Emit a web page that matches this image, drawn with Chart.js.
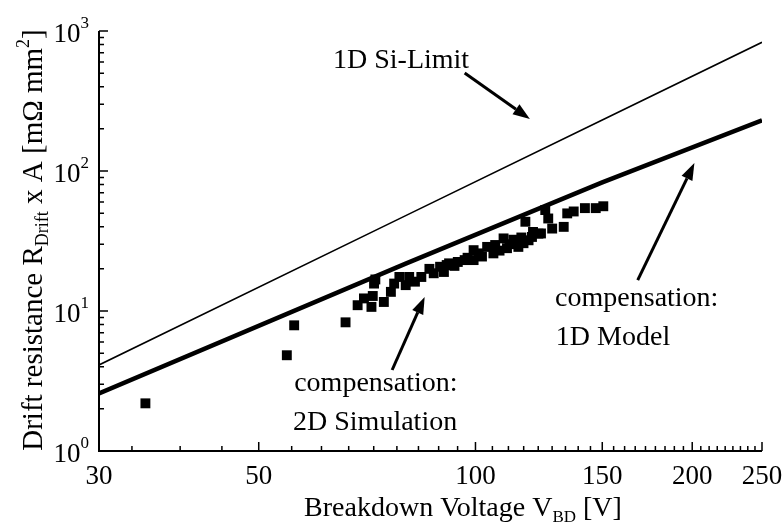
<!DOCTYPE html>
<html>
<head>
<meta charset="utf-8">
<script src="https://cdn.jsdelivr.net/npm/chart.js@4.4.0/dist/chart.umd.min.js"></script>
<style>
    html, body { margin: 0; padding: 0; background: #fff; }
</style>
</head>
<body>
<canvas id="chart" width="784" height="527"></canvas>
<script>
// measured devices: breakdown voltage [V] and drift resistance [mOhm mm2]
var deviceV = [34.8, 54.7, 56.0, 66.0, 68.6, 70.0, 71.7, 72.0, 72.3, 72.6, 74.6, 76.3, 77.1, 78.4, 80.0, 80.9,
    82.4, 84.1, 86.3, 87.5, 89.3, 90.4, 91.2, 91.9, 93.5, 94.5, 96.6, 97.5, 99.4, 99.4, 101.0, 102.1, 103.8,
    105.9, 106.5, 108.0, 109.4, 110.6, 111.5, 112.9, 114.7, 115.8, 116.6, 117.3, 118.5, 119.8, 120.2, 122.3,
    123.3, 125.0, 126.2, 127.8, 132.6, 134.1, 136.9, 141.9, 146.9, 150.5];
var deviceR = [2.19, 4.83, 7.9, 8.3, 11.0, 12.3, 10.7, 12.8, 15.7, 16.8, 11.6, 13.7, 15.7, 17.5, 15.3, 17.5,
    16.2, 17.5, 20.0, 18.6, 20.7, 19.0, 21.3, 21.9, 21.0, 22.4, 23.1, 24.0, 27.2, 23.1, 25.8, 24.5, 28.7,
    25.8, 29.6, 27.0, 33.0, 28.1, 30.0, 32.3, 28.7, 33.5, 30.5, 43.4, 32.0, 33.8, 36.7, 35.7,
    35.8, 52.6, 45.8, 38.8, 39.9, 49.8, 51.4, 54.3, 54.3, 56.0];

// 1D silicon limit and 1D compensation model
var limitV = [30, 80, 150, 250];
var limitR = [4.12, 48, 231, 830];
var modelV = [30, 80, 150, 250];
var modelR = [2.58, 21.8, 83, 230];

// axis ticks
var xTicks = [30, 50, 100, 150, 200, 250];
var yExponents = [0, 1, 2, 3];

var serif = "'Liberation Serif', 'Times New Roman', serif";

function toPoints(xs, ys) {
    return xs.map(function(x, i) { return { x: x, y: ys[i] }; });
}

function font(size) {
    return size + 'px ' + serif;
}

// draw text made of parts [text, size, baseline shift]
function drawRich(ctx, x, y, parts, align) {
    var total = 0;
    parts.forEach(function(p) {
        ctx.font = font(p[1]);
        total += ctx.measureText(p[0]).width;
    });
    var cx = x;
    if (align === 'right') cx = x - total;
    if (align === 'center') cx = x - total / 2;
    parts.forEach(function(p) {
        ctx.font = font(p[1]);
        ctx.fillText(p[0], cx, y + p[2]);
        cx += ctx.measureText(p[0]).width;
    });
}

function arrow(ctx, x1, y1, x2, y2) {
    var ang = Math.atan2(y2 - y1, x2 - x1);
    var head = 17, half = 6;
    var bx = x2 - head * Math.cos(ang), by = y2 - head * Math.sin(ang);
    ctx.lineWidth = 3;
    ctx.beginPath();
    ctx.moveTo(x1, y1);
    ctx.lineTo(bx, by);
    ctx.stroke();
    ctx.beginPath();
    ctx.moveTo(x2, y2);
    ctx.lineTo(bx + half * Math.sin(ang), by - half * Math.cos(ang));
    ctx.lineTo(bx - half * Math.sin(ang), by + half * Math.cos(ang));
    ctx.closePath();
    ctx.fill();
}

var axesPlugin = {
    id: 'axesPlugin',
    afterDraw: function(chart) {
        var ctx = chart.ctx;
        var area = chart.chartArea;
        var xs = chart.scales.x, ys = chart.scales.y;
        ctx.save();
        ctx.fillStyle = '#000';
        ctx.strokeStyle = '#000';
        ctx.textAlign = 'left';
        ctx.textBaseline = 'alphabetic';

        // axis lines
        ctx.lineWidth = 2;
        ctx.beginPath();
        ctx.moveTo(area.left, area.top);
        ctx.lineTo(area.left, area.bottom);
        ctx.lineTo(area.right, area.bottom);
        ctx.stroke();

        // x ticks: major labelled, minor every 50/9
        ctx.lineWidth = 1.5;
        ctx.beginPath();
        for (var k = -3; k <= 36; k++) {
            var v = 50 + k * 50 / 9;
            if (k % 9 === 0 || v < 30) continue;
            var px = xs.getPixelForValue(v);
            ctx.moveTo(px, area.bottom);
            ctx.lineTo(px, area.bottom - 5);
        }
        xTicks.forEach(function(t) {
            var px = xs.getPixelForValue(t);
            ctx.moveTo(px, area.bottom);
            ctx.lineTo(px, area.bottom - 9);
        });
        // y ticks
        yExponents.forEach(function(e) {
            var py = ys.getPixelForValue(Math.pow(10, e));
            ctx.moveTo(area.left, py);
            ctx.lineTo(area.left + 9, py);
            if (e < 3) {
                for (var m = 2; m <= 9; m++) {
                    var my = ys.getPixelForValue(m * Math.pow(10, e));
                    ctx.moveTo(area.left, my);
                    ctx.lineTo(area.left + 5, my);
                }
            }
        });
        ctx.stroke();

        // tick labels
        xTicks.forEach(function(t) {
            drawRich(ctx, xs.getPixelForValue(t), area.bottom + 33, [[String(t), 27, 0]], 'center');
        });
        yExponents.forEach(function(e) {
            var py = ys.getPixelForValue(Math.pow(10, e));
            drawRich(ctx, 89, py + 11, [['10', 27, 0], [String(e), 17, -14]], 'right');
        });

        // axis titles
        drawRich(ctx, 463, 516, [['Breakdown Voltage V', 28, 0], ['BD', 17, 6], [' [V]', 28, 0]], 'center');
        ctx.save();
        ctx.translate(42, 240);
        ctx.rotate(-Math.PI / 2);
        drawRich(ctx, 0, 0, [['Drift resistance R', 29, 0], ['Drift', 18, 6], [' x A [m\u03A9 mm', 29, 0],
            ['2', 18, -13], [']', 29, 0]], 'center');
        ctx.restore();

        // annotations, placed in data coordinates
        function at(v, r) { return [xs.getPixelForValue(v), ys.getPixelForValue(r)]; }
        var p;
        p = at(63.4, 544); drawRich(ctx, p[0], p[1], [['1D Si-Limit', 28, 0]]);
        p = at(129.0, 10.86); drawRich(ctx, p[0], p[1], [['compensation:', 28, 0]]);
        p = at(129.3, 5.72); drawRich(ctx, p[0], p[1], [['1D Model', 28, 0]]);
        p = at(56.0, 2.70); drawRich(ctx, p[0], p[1], [['compensation:', 28, 0]]);
        p = at(55.8, 1.41); drawRich(ctx, p[0], p[1], [['2D Simulation', 28, 0]]);

        var a, b;
        a = at(96.6, 501); b = at(119.0, 235); arrow(ctx, a[0], a[1], b[0], b[1]);
        a = at(168, 16.6); b = at(201.4, 114); arrow(ctx, a[0], a[1], b[0], b[1]);
        a = at(76.6, 3.79); b = at(85.0, 12.6); arrow(ctx, a[0], a[1], b[0], b[1]);

        ctx.restore();
    }
};

var ctx = document.getElementById('chart').getContext('2d');
var chart = new Chart(ctx, {
    type: 'scatter',
    data: {
        datasets: [
            {
                label: '1D Si-Limit',
                data: toPoints(limitV, limitR),
                showLine: true,
                borderColor: '#000',
                borderWidth: 1.6,
                pointRadius: 0
            },
            {
                label: 'compensation: 1D Model',
                data: toPoints(modelV, modelR),
                showLine: true,
                borderColor: '#000',
                borderWidth: 4.5,
                pointRadius: 0
            },
            {
                label: 'compensation: 2D Simulation',
                data: toPoints(deviceV, deviceR),
                pointStyle: 'rect',
                pointRadius: 7,
                backgroundColor: '#000',
                borderWidth: 0
            }
        ]
    },
    options: {
        responsive: false,
        devicePixelRatio: 1,
        animation: false,
        layout: { padding: { left: 99, right: 22, top: 31, bottom: 76 } },
        plugins: { legend: { display: false }, tooltip: { enabled: false } },
        scales: {
            x: { type: 'logarithmic', min: 30, max: 250, display: false },
            y: { type: 'logarithmic', min: 1, max: 1000, display: false }
        }
    },
    plugins: [axesPlugin]
});
</script>
</body>
</html>
